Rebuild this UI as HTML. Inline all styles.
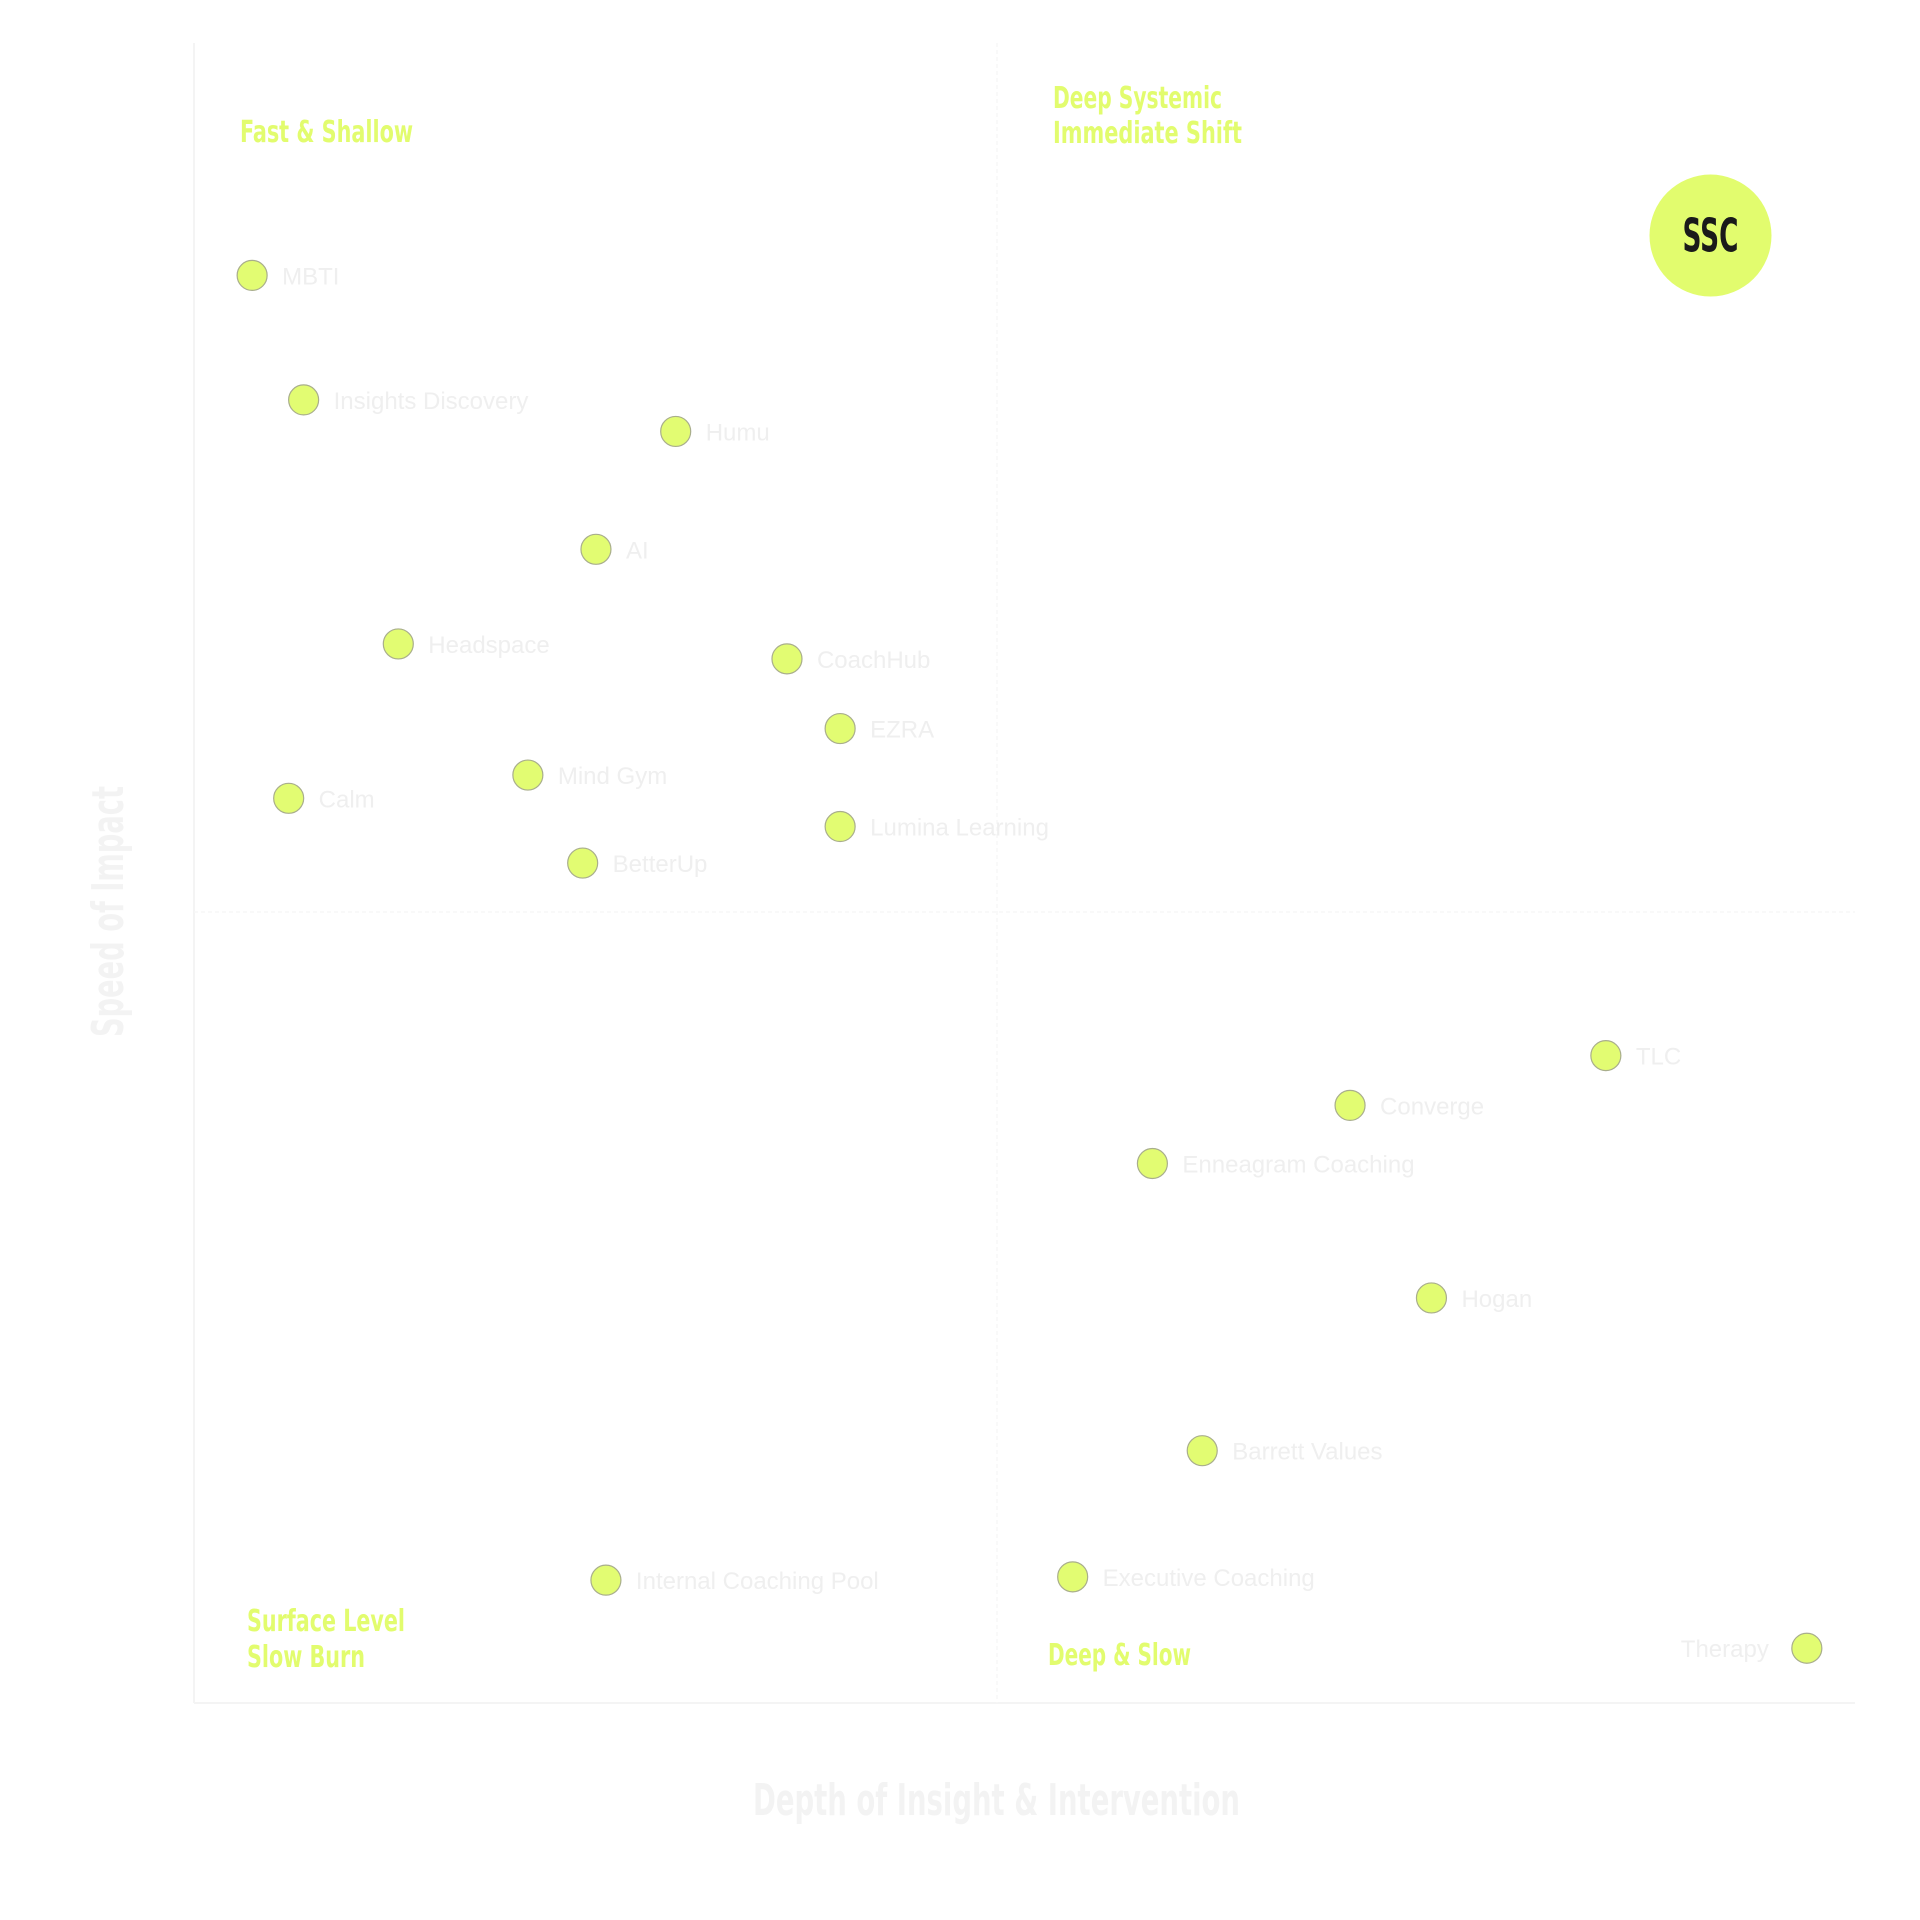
<!DOCTYPE html>
<html><head><meta charset="utf-8"><style>
html,body{margin:0;padding:0;background:#fff;}
svg{display:block;}
.q{font-family:"DejaVu Sans Condensed","Liberation Sans",sans-serif;font-weight:bold;fill:#e2fc6e;font-size:30px;}
.lbl{font-family:"Liberation Sans","DejaVu Sans",sans-serif;font-size:24px;fill:#efefef;}
.ax{font-family:"DejaVu Sans Condensed","Liberation Sans",sans-serif;font-weight:bold;fill:#f3f3f3;font-size:44px;}
</style></head><body>
<svg id="chart" width="1920" height="1920" viewBox="0 0 1920 1920" xmlns="http://www.w3.org/2000/svg">
<g id="frame">
<line x1="194" y1="43" x2="194" y2="1703" stroke="#f4f4f4" stroke-width="2"/>
<line x1="194" y1="1703" x2="1855" y2="1703" stroke="#f4f4f4" stroke-width="2"/>
<line x1="997" y1="43" x2="997" y2="1703" stroke="#f7f7f7" stroke-width="1.5" stroke-dasharray="4 3"/>
<line x1="194" y1="912" x2="1855" y2="912" stroke="#f7f7f7" stroke-width="1.5" stroke-dasharray="4 3"/>
</g>
<text class="q" x="240" y="142" textLength="173" lengthAdjust="spacingAndGlyphs">Fast &amp; Shallow</text>
<text class="q" x="1053" y="108" textLength="169" lengthAdjust="spacingAndGlyphs">Deep Systemic</text>
<text class="q" x="1053" y="143" textLength="189" lengthAdjust="spacingAndGlyphs">Immediate Shift</text>
<text class="q" x="247" y="1631" textLength="158" lengthAdjust="spacingAndGlyphs">Surface Level</text>
<text class="q" x="247" y="1667" textLength="118" lengthAdjust="spacingAndGlyphs">Slow Burn</text>
<text class="q" x="1048" y="1665" textLength="143" lengthAdjust="spacingAndGlyphs">Deep &amp; Slow</text>
<text class="ax" x="753" y="1815" textLength="487" lengthAdjust="spacingAndGlyphs">Depth of Insight &amp; Intervention</text>
<text class="ax" x="-125" y="0" textLength="251" lengthAdjust="spacingAndGlyphs" transform="translate(123,912) rotate(-90)">Speed of Impact</text>
<g id="marks"></g>
</svg>
<script>
const names = ["MBTI","Insights Discovery","Humu","AI","Headspace","CoachHub","EZRA","Mind Gym","Calm","Lumina Learning","BetterUp","TLC","Converge","Enneagram Coaching","Hogan","Barrett Values","Internal Coaching Pool","Executive Coaching","Therapy"];
const depth = [3.5,6.6,29.0,24.2,12.3,35.7,38.9,20.1,5.7,38.9,23.4,85.0,69.6,57.7,74.5,60.7,24.8,52.9,97.1];
const speed = [86.0,78.5,76.6,69.5,63.8,62.9,58.7,55.9,54.5,52.8,50.6,39.0,36.0,32.5,24.4,15.2,7.4,7.6,3.3];
const sscDepth = 91.3;
const sscSpeed = 88.4;

const X0=194, X1=1855, Y0=1703, Y1=43;
function xs(v){return X0+(X1-X0)*v/100;}
function ys(v){return Y0-(Y0-Y1)*v/100;}
const NS="http://www.w3.org/2000/svg";
const g=document.getElementById('marks');
for(let i=0;i<names.length;i++){
  const cx=xs(depth[i]), cy=ys(speed[i]);
  const c=document.createElementNS(NS,'circle');
  
  
  c.setAttribute('cx',cx);c.setAttribute('cy',cy);c.setAttribute('r',15);
  c.setAttribute('fill','#e2fc72');c.setAttribute('stroke','#a9ae8c');c.setAttribute('stroke-width','1.2');
  g.appendChild(c);
  const t=document.createElementNS(NS,'text');
  
  
  t.setAttribute('class','lbl');
  const left = depth[i]>95;
  t.setAttribute('x', left? cx-38 : cx+30);
  t.setAttribute('y', cy+9);
  if(left) t.setAttribute('text-anchor','end');
  t.textContent=names[i];
  g.appendChild(t);
}
const sx=xs(sscDepth), sy=ys(sscSpeed);
const sc=document.createElementNS(NS,'circle');


sc.setAttribute('cx',sx);sc.setAttribute('cy',sy);sc.setAttribute('r',61);
sc.setAttribute('fill','#e2fc6e');
g.appendChild(sc);
const st=document.createElementNS(NS,'text');


st.setAttribute('x',sx-28);st.setAttribute('y',sy+16);
st.setAttribute('textLength','56');
st.setAttribute('lengthAdjust','spacingAndGlyphs');
st.setAttribute('style','font-family:"DejaVu Sans Condensed","Liberation Sans",sans-serif;font-weight:bold;font-size:46px;fill:#1a1a1a;');
st.textContent='SSC';
g.appendChild(st);
</script>
</body></html>
